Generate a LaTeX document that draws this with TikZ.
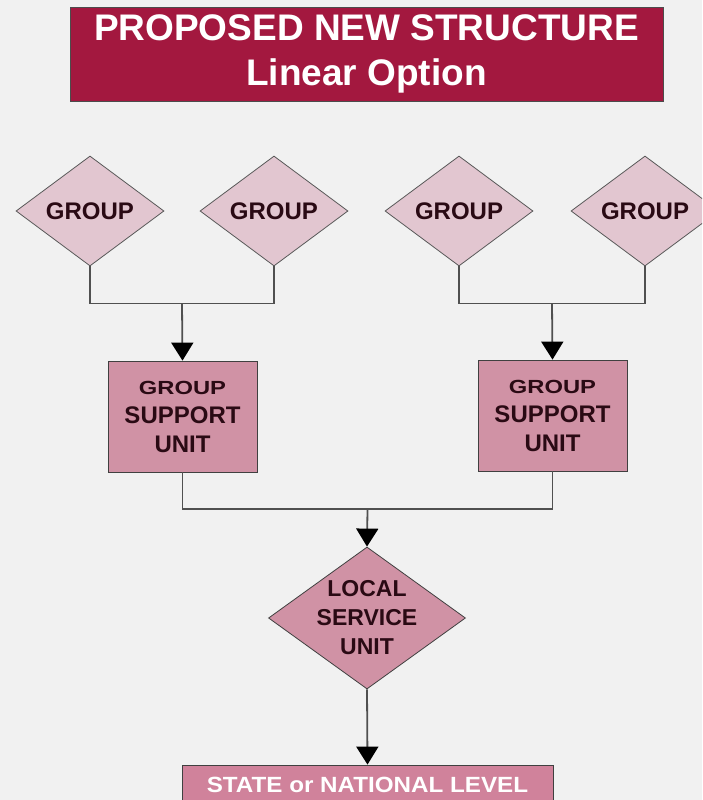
\documentclass[tikz,border=0pt]{standalone}
\usepackage{fontspec}
\setmainfont{Liberation Sans}
\usetikzlibrary{positioning, arrows.meta, shapes.geometric, calc}

\definecolor{bgpaper}{HTML}{F1F1F1}
\definecolor{titlered}{HTML}{A3183F}
\definecolor{grouppink}{HTML}{E2C6D0}
\definecolor{unitpink}{HTML}{D092A5}
\definecolor{statepink}{HTML}{D0829B}
\definecolor{darktext}{HTML}{2A0A14}
\definecolor{linegray}{HTML}{505050}

\newcommand{\widetext}[2]{\scalebox{#1}[1]{#2}}

\begin{document}
\begin{tikzpicture}[
    x=1pt, y=-1pt,
    titlebox/.style={rectangle, draw=gray!60!black, line width=0.8pt, fill=titlered,
                     minimum width=593pt, minimum height=94pt, text=white, align=center,
                     font=\fontsize{37}{45}\selectfont\bfseries},
    groupdia/.style={diamond, draw=gray!70!black, line width=0.8pt, fill=grouppink,
                     minimum width=148pt, minimum height=110pt, inner sep=0pt,
                     text=darktext, font=\fontsize{24}{27}\selectfont\bfseries},
    unitbox/.style={rectangle, draw=gray!50!black, line width=0.8pt, fill=unitpink,
                    minimum width=149pt, minimum height=111pt, inner sep=0pt,
                    text=darktext, align=center, font=\fontsize{24}{29}\selectfont\bfseries},
    localdia/.style={diamond, draw=gray!50!black, line width=0.8pt, fill=unitpink,
                     minimum width=197pt, minimum height=142pt, inner sep=0pt},
    localtext/.style={text=darktext, align=center, font=\fontsize{23}{29}\selectfont\bfseries},
    statebox/.style={rectangle, draw=gray!50!black, line width=0.8pt, fill=statepink,
                     minimum width=371pt, minimum height=40pt, inner sep=0pt,
                     text=white, font=\fontsize{22}{26}\selectfont\bfseries},
    link/.style={line width=1.8pt, draw=linegray},
    arrow/.style={link, -{Triangle[length=18pt, width=22pt, color=black]}}
]
    % Background and frame
    \fill[bgpaper] (0,0) rectangle (702,800);
    \useasboundingbox (0,0) rectangle (702,800);
    \clip (0,0) rectangle (702,800);

    % === Title ===
    \node[titlebox] (title) at (366.5, 54) {PROPOSED NEW STRUCTURE\\Linear Option};

    % === Groups ===
    \node[groupdia] (grp1) at (90, 211) {GROUP};
    \node[groupdia] (grp2) at (274, 211) {GROUP};
    \node[groupdia] (grp3) at (459, 211) {GROUP};
    \node[groupdia] (grp4) at (645, 211) {GROUP};

    % === Group support units ===
    \node[unitbox] (gsu1) at (182.5, 416.5)
        {{\fontsize{19}{29}\selectfont\widetext{1.25}{GROUP}}\\SUPPORT\\UNIT};
    \node[unitbox] (gsu2) at (552.5, 415.5)
        {{\fontsize{19}{29}\selectfont\widetext{1.25}{GROUP}}\\SUPPORT\\UNIT};

    % === Local service unit ===
    \node[localdia, label={[localtext]center:LOCAL\\SERVICE\\UNIT}] (lsu) at (367, 618) {};

    % === State or national level ===
    \node[statebox] (state) at (367.5, 785) {\widetext{1.1}{STATE or NATIONAL LEVEL}};

    % Junctions
    \coordinate (jn1) at ($(grp1.south)!0.5!(grp2.south) + (0, 37)$);
    \coordinate (jn2) at ($(grp3.south)!0.5!(grp4.south) + (0, 37)$);
    \coordinate (jn3) at ($(gsu1.south)!0.5!(gsu2.south) + (0, 37)$);

    % Connectors
    \draw[link] (grp1.south) |- (jn1) -| (grp2.south);
    \draw[arrow] (jn1) -- (gsu1.north);
    \draw[link] (grp3.south) |- (jn2) -| (grp4.south);
    \draw[arrow] (jn2) -- (gsu2.north);
    \draw[link] (gsu1.south) |- (jn3) -| (gsu2.south);
    \draw[arrow] (jn3) -- (lsu.north);
    \draw[arrow] (lsu.south) -- (state.north);
\end{tikzpicture}
\end{document}
